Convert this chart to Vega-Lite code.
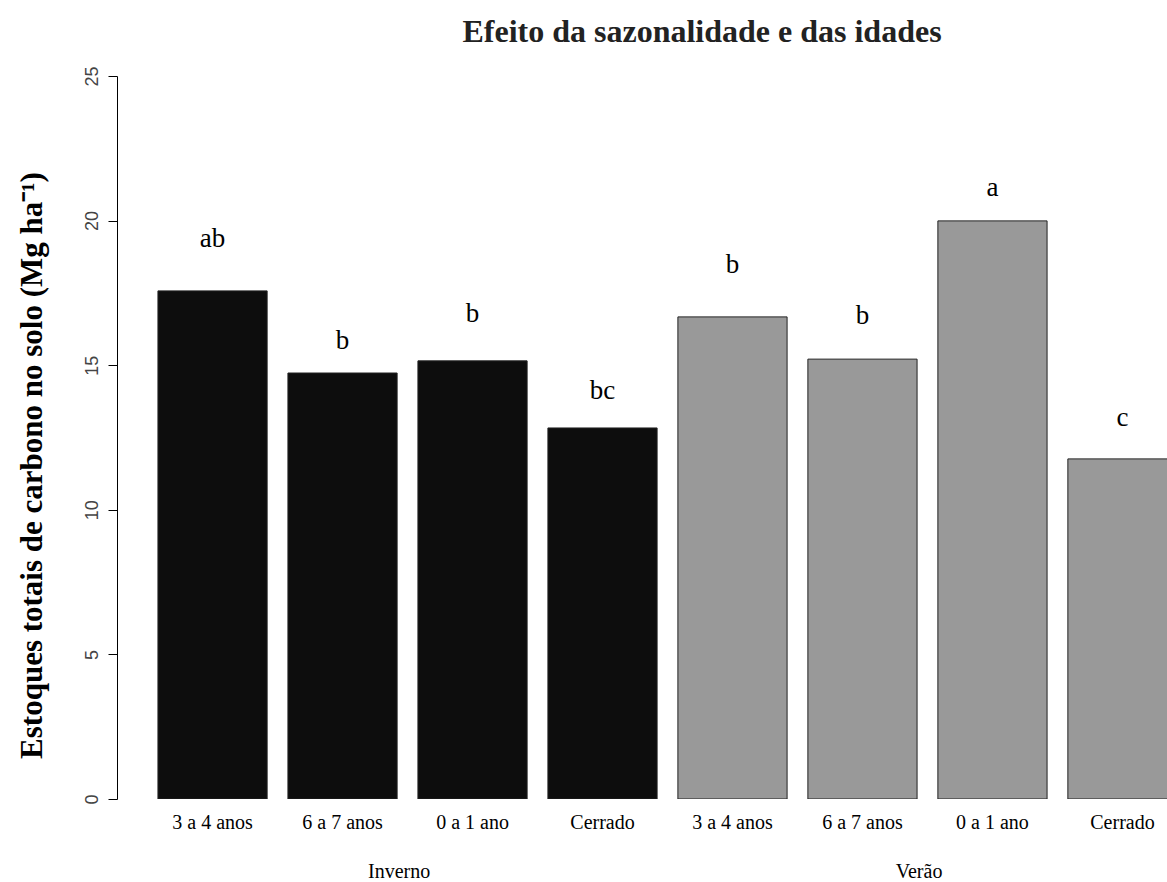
{
  "$schema": "https://vega.github.io/schema/vega-lite/v6.json",
  "width": 1050,
  "height": 723,
  "autosize": {"type": "none"},
  "padding": {"left": 117, "top": 76, "right": 0, "bottom": 83},
  "background": "white",
  "config": {"view": {"stroke": null}},
  "title": {
    "text": "Efeito da sazonalidade e das idades",
    "font": "Liberation Serif",
    "fontSize": 32,
    "fontWeight": "bold",
    "color": "#222222",
    "anchor": "middle",
    "baseline": "alphabetic",
    "dx": 60,
    "offset": -8
  },
  "datasets": {
    "barras": [
      {"estacao": "Inverno", "idade": "3 a 4 anos", "chave": "Inverno|3 a 4 anos", "estoque": 17.57, "letra": "ab", "limite": 19.09},
      {"estacao": "Inverno", "idade": "6 a 7 anos", "chave": "Inverno|6 a 7 anos", "estoque": 14.73, "letra": "b", "limite": 15.56},
      {"estacao": "Inverno", "idade": "0 a 1 ano", "chave": "Inverno|0 a 1 ano", "estoque": 15.15, "letra": "b", "limite": 16.49},
      {"estacao": "Inverno", "idade": "Cerrado", "chave": "Inverno|Cerrado", "estoque": 12.83, "letra": "bc", "limite": 13.83},
      {"estacao": "Verão", "idade": "3 a 4 anos", "chave": "Verão|3 a 4 anos", "estoque": 16.67, "letra": "b", "limite": 18.19},
      {"estacao": "Verão", "idade": "6 a 7 anos", "chave": "Verão|6 a 7 anos", "estoque": 15.21, "letra": "b", "limite": 16.42},
      {"estacao": "Verão", "idade": "0 a 1 ano", "chave": "Verão|0 a 1 ano", "estoque": 19.99, "letra": "a", "limite": 20.85},
      {"estacao": "Verão", "idade": "Cerrado", "chave": "Verão|Cerrado", "estoque": 11.76, "letra": "c", "limite": 12.90}
    ],
    "estacoes": [
      {"estacao": "Inverno", "chave": "Inverno|6 a 7 anos"},
      {"estacao": "Verão", "chave": "Verão|6 a 7 anos"}
    ]
  },
  "encoding": {
    "x": {
      "field": "chave",
      "type": "nominal",
      "sort": null,
      "scale": {
        "domain": ["Inverno|3 a 4 anos", "Inverno|6 a 7 anos", "Inverno|0 a 1 ano", "Inverno|Cerrado", "Verão|3 a 4 anos", "Verão|6 a 7 anos", "Verão|0 a 1 ano", "Verão|Cerrado"],
        "range": [0, 1101],
        "paddingInner": 0.16,
        "paddingOuter": 0.315
      },
      "axis": {
        "title": null,
        "labelExpr": "split(datum.value, '|')[1]",
        "labelAngle": 0,
        "ticks": false,
        "domain": false,
        "labelFont": "Liberation Serif",
        "labelFontSize": 20,
        "labelColor": "black",
        "labelBaseline": "alphabetic",
        "labelPadding": 29
      }
    }
  },
  "layer": [
    {
      "data": {"name": "barras"},
      "mark": {"type": "bar", "clip": true, "stroke": "#222222", "strokeWidth": 1},
      "encoding": {
        "y": {
          "field": "estoque",
          "type": "quantitative",
          "scale": {"domain": [0, 25], "nice": false, "zero": true},
          "axis": {
            "values": [0, 5, 10, 15, 20, 25],
            "grid": false,
            "labelAngle": -90,
            "labelAlign": "center",
            "labelBaseline": "alphabetic",
            "labelPadding": 11,
            "tickSize": 9,
            "tickColor": "black",
            "domainColor": "black",
            "labelFont": "Liberation Sans",
            "labelFontSize": 18,
            "labelColor": "#444444",
            "title": "Estoques totais de carbono no solo (Mg ha⁻¹)",
            "titleFont": "Liberation Serif",
            "titleFontSize": 31,
            "titleFontWeight": "bold",
            "titleColor": "black",
            "titleAngle": -90,
            "titleAlign": "center",
            "titleBaseline": "alphabetic",
            "titleX": -76,
            "titleY": 389
          }
        },
        "color": {
          "field": "estacao",
          "type": "nominal",
          "scale": {"domain": ["Inverno", "Verão"], "range": ["#0d0d0d", "#999999"]},
          "legend": null
        }
      }
    },
    {
      "data": {"name": "barras"},
      "mark": {"type": "text", "font": "Liberation Serif", "fontSize": 27, "color": "black", "baseline": "alphabetic", "align": "center"},
      "encoding": {
        "y": {"field": "limite", "type": "quantitative"},
        "text": {"field": "letra"}
      }
    },
    {
      "data": {"name": "estacoes"},
      "mark": {"type": "text", "font": "Liberation Serif", "fontSize": 20, "color": "black", "baseline": "alphabetic", "align": "center", "dx": 2, "clip": false},
      "encoding": {
        "x": {"field": "chave", "type": "nominal", "bandPosition": 1},
        "y": {"datum": -2.73, "type": "quantitative"},
        "text": {"field": "estacao"}
      }
    }
  ]
}
